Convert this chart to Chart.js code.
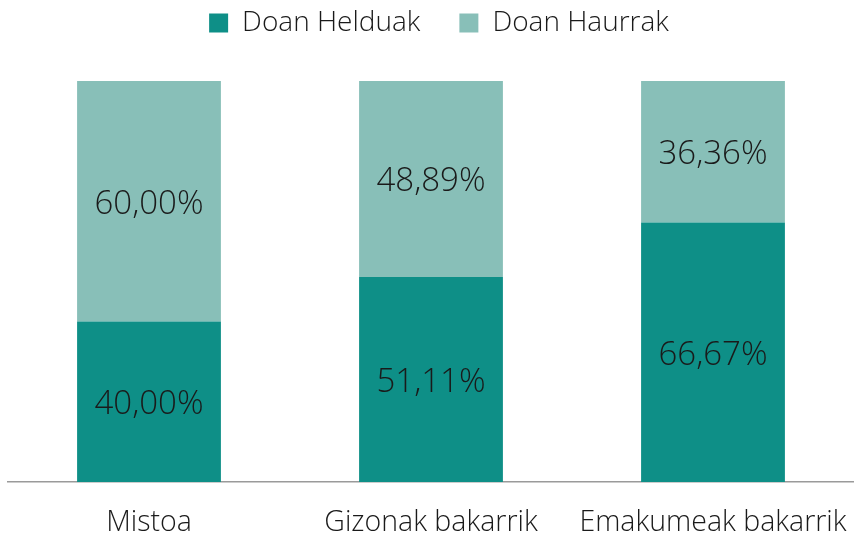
<!DOCTYPE html>
<html><head><meta charset="utf-8">
<script src="https://cdn.jsdelivr.net/npm/chart.js@4/dist/chart.umd.min.js"></script>
<style>html,body{margin:0;padding:0;background:#fff}#w{width:854px;height:536px}</style>
</head><body><div id="w"><canvas id="c"></canvas></div>
<script>
const categories = ["Mistoa", "Gizonak bakarrik", "Emakumeak bakarrik"];
const helduak = [40.00, 51.11, 66.67];
const haurrak = [60.00, 48.89, 36.36];
const seriesNames = ["Doan Helduak", "Doan Haurrak"];

// 100% stacked: each bar's share of its own total
const totals = helduak.map((v, i) => v + haurrak[i]);
const share = (arr) => arr.map((v, i) => v / totals[i] * 100);

const FONT = "'Open Sans', sans-serif";
const fmt = v => v.toFixed(2).replace('.', ',') + '%';

const labelPlugin = {
  id: 'labels',
  afterDatasetsDraw(chart) {
    const ctx = chart.ctx;
    ctx.save();
    ctx.font = "300 33px " + FONT;
    ctx.fillStyle = '#1a1a1a';
    ctx.textAlign = 'center';
    ctx.textBaseline = 'middle';
    const raw = [helduak, haurrak];
    chart.data.datasets.forEach((ds, di) => {
      chart.getDatasetMeta(di).data.forEach((el, i) => {
        const y = (el.y + el.base) / 2 + 3;
        ctx.fillText(fmt(raw[di][i]), el.x, y);
      });
    });
    ctx.restore();
  }
};

const legendBox = {
  id: 'legendBox',
  afterInit(chart) {
    const lg = chart.legend;
    const fit = lg.fit;
    lg.fit = function () { fit.call(this); this.height = 81; };
  },
  afterLayout(chart) {
    const lg = chart.legend;
    lg.top -= 30; lg.bottom -= 30;
    lg.left += 8; lg.right += 8;
  }
};

new Chart(document.getElementById('c'), {
  type: 'bar',
  data: {
    labels: categories,
    datasets: [
      { label: seriesNames[0], data: share(helduak), backgroundColor: '#0E8F87', categoryPercentage: 1, barPercentage: 0.51 },
      { label: seriesNames[1], data: share(haurrak), backgroundColor: '#88BFB8', categoryPercentage: 1, barPercentage: 0.51 }
    ]
  },
  options: {
    responsive: true, maintainAspectRatio: false, animation: false,
    layout: { padding: { left: 8, right: 0, top: 0, bottom: 0 } },
    plugins: {
      legend: {
        position: 'top',
        labels: { font: { family: FONT, size: 28, weight: 300, lineHeight: 1 }, color: '#1a1a1a', boxWidth: 19, boxHeight: 19, padding: 39 }
      },
      tooltip: { enabled: false }
    },
    scales: {
      x: {
        stacked: true,
        grid: { display: false, drawTicks: false },
        border: { color: '#9a9a9a', width: 1.5 },
        ticks: { font: { family: FONT, size: 28.5, weight: 300, lineHeight: 1 }, color: '#1a1a1a', padding: 27, maxRotation: 0, minRotation: 0, autoSkip: false },
        afterFit(scale) { scale.height = 54; scale.paddingLeft = 0; scale.paddingRight = 0; }
      },
      y: { stacked: true, display: false, min: 0, max: 100 }
    }
  },
  plugins: [labelPlugin, legendBox]
});
</script></body></html>
